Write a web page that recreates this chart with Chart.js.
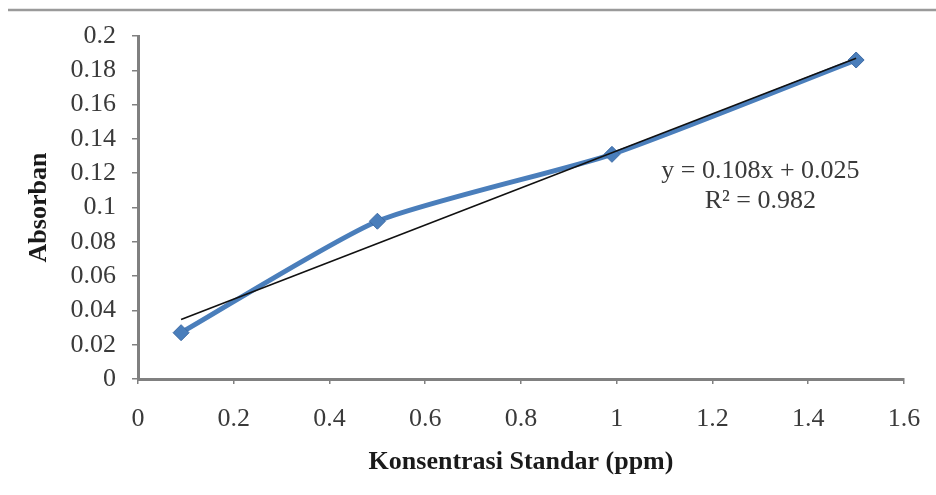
<!DOCTYPE html>
<html>
<head>
<meta charset="utf-8">
<script src="https://cdn.jsdelivr.net/npm/chart.js@4/dist/chart.umd.min.js"></script>
<style>
  html, body { margin: 0; padding: 0; background: #ffffff; }
  #wrap { width: 936px; height: 495px; position: relative; }
</style>
</head>
<body>
<div id="wrap"><canvas id="c" width="936" height="495"></canvas></div>
<script>
// ---- data ----
const concentrations = [0.09, 0.5, 0.99, 1.5];
const absorbances = [0.027, 0.092, 0.131, 0.186];
const trendSlope = 0.108;
const trendIntercept = 0.025;
const equationLabel = 'y = 0.108x + 0.025';
const r2Label = 'R² = 0.982';
const xTickValues = [0, 0.2, 0.4, 0.6, 0.8, 1, 1.2, 1.4, 1.6];
const xTickLabels = ['0', '0.2', '0.4', '0.6', '0.8', '1', '1.2', '1.4', '1.6'];
const yTickValues = [0, 0.02, 0.04, 0.06, 0.08, 0.1, 0.12, 0.14, 0.16, 0.18, 0.2];
const yTickLabels = ['0', '0.02', '0.04', '0.06', '0.08', '0.1', '0.12', '0.14', '0.16', '0.18', '0.2'];
const xTitle = 'Konsentrasi Standar (ppm)';
const yTitle = 'Absorban';

const seriesPoints = concentrations.map((x, i) => ({ x: x, y: absorbances[i] }));
const trendXs = [concentrations[0], concentrations[concentrations.length - 1]];
const trendPoints = trendXs.map(x => ({ x: x, y: trendSlope * x + trendIntercept }));

const SERIF = '"Liberation Serif", "DejaVu Serif", serif';

const decorPlugin = {
  id: 'decor',
  beforeDraw(chart) {
    const ctx = chart.ctx;
    ctx.save();
    ctx.strokeStyle = '#9a9a9a';
    ctx.lineWidth = 2.5;
    ctx.beginPath();
    ctx.moveTo(8, 10);
    ctx.lineTo(chart.width, 10);
    ctx.stroke();
    ctx.restore();
  },
  afterDraw(chart) {
    const ctx = chart.ctx;
    const xs = chart.scales.x, ys = chart.scales.y;
    const cx = xs.getPixelForValue(1.3);
    const cy = ys.getPixelForValue(0.121);
    ctx.save();
    ctx.fillStyle = '#3a3a3a';
    ctx.font = '26px ' + SERIF;
    ctx.textAlign = 'center';
    ctx.textBaseline = 'middle';
    ctx.fillText(equationLabel, cx, cy);
    ctx.fillText(r2Label, cx, cy + 30);
    ctx.restore();
  }
};

const tickLabelFont = { family: SERIF, size: 26, lineHeight: 1 };
const titleFont = { family: SERIF, size: 26, weight: 'bold', lineHeight: 1.2 };

new Chart(document.getElementById('c'), {
  type: 'scatter',
  data: {
    datasets: [
      {
        label: 'Trendline',
        data: trendPoints,
        showLine: true,
        borderColor: '#111111',
        borderWidth: 1.6,
        pointRadius: 0,
        order: 0
      },
      {
        label: 'Absorban',
        data: seriesPoints,
        showLine: true,
        tension: 0.2,
        borderColor: '#4a7ebb',
        borderWidth: 5,
        pointStyle: 'rectRot',
        pointRadius: 8,
        pointBackgroundColor: '#4a7ebb',
        pointBorderColor: '#3d6aa3',
        pointBorderWidth: 1,
        order: 1
      }
    ]
  },
  options: {
    responsive: false,
    animation: false,
    layout: { padding: { top: 36, right: 32, left: 0, bottom: 0 } },
    plugins: {
      legend: { display: false },
      tooltip: { enabled: false }
    },
    scales: {
      x: {
        type: 'linear',
        min: 0,
        max: 1.6,
        afterBuildTicks(scale) { scale.ticks = xTickValues.map(v => ({ value: v })); },
        afterFit(scale) { scale.height = 116; scale.paddingLeft = 0; scale.paddingRight = 0; },
        border: { display: true, color: '#808080', width: 3 },
        grid: { display: true, drawOnChartArea: false, drawTicks: true, tickLength: 5, color: '#808080', lineWidth: 1.5 },
        ticks: {
          autoSkip: false,
          maxRotation: 0,
          padding: 22,
          color: '#3a3a3a',
          font: tickLabelFont,
          callback: (v, i) => xTickLabels[i]
        },
        title: {
          display: true,
          text: xTitle,
          color: '#1a1a1a',
          font: titleFont,
          padding: { top: 0, bottom: 17 }
        }
      },
      y: {
        type: 'linear',
        min: 0,
        max: 0.2,
        afterBuildTicks(scale) { scale.ticks = yTickValues.map(v => ({ value: v })); },
        afterFit(scale) { scale.width = 138; scale.paddingTop = 0; scale.paddingBottom = 0; },
        border: { display: true, color: '#808080', width: 3 },
        grid: { display: true, drawOnChartArea: false, drawTicks: true, tickLength: 6, color: '#808080', lineWidth: 1.5 },
        ticks: {
          autoSkip: false,
          padding: 16,
          color: '#3a3a3a',
          font: tickLabelFont,
          callback: (v, i) => yTickLabels[i]
        },
        title: {
          display: true,
          text: yTitle,
          color: '#1a1a1a',
          font: titleFont,
          padding: { top: 24, bottom: 0 }
        }
      }
    }
  },
  plugins: [decorPlugin]
});
</script>
</body>
</html>
